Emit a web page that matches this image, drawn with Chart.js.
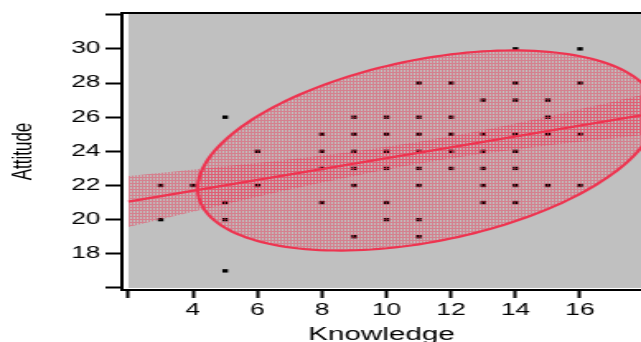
<!DOCTYPE html>
<html>
<head>
<meta charset="utf-8">
<script src="https://cdn.jsdelivr.net/npm/chart.js@4.4.1/dist/chart.umd.min.js"></script>
<style>
  html, body { margin: 0; padding: 0; background: #fff; overflow: hidden; }
  #wrap { width: 389px; height: 342px; transform: scaleX(1.6478); transform-origin: 0 0; }
</style>
</head>
<body>
<div id="wrap"><canvas id="chart" width="389" height="342"></canvas></div>
<script>
// scatter points
const knowledge = [3, 3, 4, 5, 5, 5, 5, 6, 6, 8, 8, 8, 8, 9, 9, 9, 9, 9, 9,
  10, 10, 10, 10, 10, 10, 11, 11, 11, 11, 11, 11, 11, 11, 12, 12, 12, 12, 12,
  13, 13, 13, 13, 13, 13, 14, 14, 14, 14, 14, 14, 14, 14, 15, 15, 15, 15,
  16, 16, 16, 16];
const attitude = [22, 20, 22, 26, 21, 20, 17, 24, 22, 25, 24, 23, 21, 26, 25, 24, 23, 22, 19,
  26, 25, 24, 23, 21, 20, 28, 26, 25, 24, 23, 22, 20, 19, 28, 26, 25, 24, 23,
  27, 25, 24, 23, 22, 21, 30, 28, 27, 25, 24, 23, 22, 21, 27, 26, 25, 22,
  30, 28, 25, 22];

// fitted line and its shaded confidence band
const fitX = [2, 17.89];
const fitY = [21.06, 26.11];
const bandX = [2, 5, 8, 11, 14, 17.89];
const bandUpper = [22.55, 23.12, 23.75, 24.56, 25.63, 27.28];
const bandLower = [19.57, 20.90, 22.17, 23.28, 24.11, 24.94];

// density ellipse: centre, half extents, correlation
const ellipseCenter = [11.25, 24.05];
const ellipseHalf = [7.1, 5.86];
const ellipseCorr = 0.38;

const xTicks = [2, 4, 6, 8, 10, 12, 14, 16];
const yTicks = [16, 18, 20, 22, 24, 26, 28, 30, 32];

const red = 'rgb(238,52,80)';
const font = 'Liberation Sans';

function hatch(ctx) {
  const c = document.createElement('canvas');
  c.width = 2; c.height = 3;
  const g = c.getContext('2d');
  g.fillStyle = 'rgba(238,50,82,0.45)';
  g.fillRect(0, 0, 2, 1);
  g.fillRect(0, 1, 1, 2);
  return ctx.createPattern(c, 'repeat');
}

const ctx = document.getElementById('chart').getContext('2d');
const pattern = hatch(ctx);

const backdrop = {
  id: 'backdrop',
  beforeDraw(chart) {
    const { ctx, chartArea: a, scales: { x, y } } = chart;
    ctx.save();
    ctx.fillStyle = '#fff';
    ctx.fillRect(0, 0, chart.width, chart.height);
    const left = x.getPixelForValue(2);
    const bottom = y.getPixelForValue(16);
    ctx.fillStyle = '#c0c0c0';
    ctx.fillRect(left, a.top, a.right - left, bottom - a.top);
    ctx.strokeStyle = '#000';
    ctx.lineWidth = 2;
    ctx.beginPath();
    ctx.moveTo(a.left - 1, a.top);
    ctx.lineTo(a.right, a.top);
    ctx.stroke();
    ctx.restore();
  }
};

const ellipse = {
  id: 'ellipse',
  afterDatasetDraw(chart, args) {
    if (args.index !== 0) return;
    const { ctx, chartArea: a, scales: { x, y } } = chart;
    const [cx, cy] = ellipseCenter;
    const [sx, sy] = ellipseHalf;
    const k = Math.sqrt(1 - ellipseCorr * ellipseCorr);
    ctx.save();
    ctx.beginPath();
    ctx.rect(x.getPixelForValue(2), a.top, a.right - x.getPixelForValue(2), y.getPixelForValue(16) - a.top);
    ctx.clip();
    ctx.beginPath();
    for (let i = 0; i <= 180; i++) {
      const t = i / 180 * Math.PI * 2;
      const vx = cx + sx * Math.cos(t);
      const vy = cy + sy * (ellipseCorr * Math.cos(t) + k * Math.sin(t));
      const px = x.getPixelForValue(vx), py = y.getPixelForValue(vy);
      if (i === 0) ctx.moveTo(px, py); else ctx.lineTo(px, py);
    }
    ctx.closePath();
    ctx.fillStyle = pattern;
    ctx.fill();
    ctx.strokeStyle = red;
    ctx.lineWidth = 2.2;
    ctx.stroke();
    ctx.restore();
  }
};

new Chart(ctx, {
  data: {
    datasets: [
      {
        type: 'scatter',
        order: 4,
        data: knowledge.map((k, i) => ({ x: k, y: attitude[i] })),
        pointStyle: 'rect',
        pointRadius: 2.4,
        backgroundColor: '#000',
        borderWidth: 0
      },
      {
        type: 'line',
        order: 3,
        data: bandX.map((v, i) => ({ x: v, y: bandUpper[i] })),
        borderWidth: 0,
        pointRadius: 0,
        cubicInterpolationMode: 'monotone',
        fill: false
      },
      {
        type: 'line',
        order: 2,
        data: bandX.map((v, i) => ({ x: v, y: bandLower[i] })),
        borderWidth: 0,
        pointRadius: 0,
        cubicInterpolationMode: 'monotone',
        backgroundColor: pattern,
        fill: '-1'
      },
      {
        type: 'line',
        order: 1,
        data: fitX.map((v, i) => ({ x: v, y: fitY[i] })),
        borderColor: red,
        borderWidth: 2.4,
        pointRadius: 0,
        fill: false
      }
    ]
  },
  options: {
    responsive: false,
    animation: false,
    events: [],
    layout: { autoPadding: false, padding: { top: 13, right: 0, left: 0, bottom: 0 } },
    plugins: { legend: { display: false }, tooltip: { enabled: false } },
    scales: {
      x: {
        type: 'linear',
        min: 1.8,
        max: 17.89,
        afterBuildTicks: s => { s.ticks = xTicks.map(v => ({ value: v })); },
        afterFit: s => { s.height = 52; s.paddingLeft = 0; s.paddingRight = 0; },
        border: { display: true, color: '#000', width: 2 },
        grid: { drawOnChartArea: false, drawTicks: true, tickLength: 8, tickColor: '#000', tickWidth: 2 },
        ticks: {
          autoSkip: false, maxRotation: 0, padding: 3, color: '#000',
          font: { family: font, size: 16 },
          callback: v => (v === 2 ? '' : v)
        },
        title: {
          display: true, text: 'Knowledge', color: '#000',
          font: { family: font, size: 18, lineHeight: 0.8 },
          padding: { top: 0, bottom: 0 }
        }
      },
      y: {
        type: 'linear',
        min: 15.88,
        max: 32.1,
        afterBuildTicks: s => { s.ticks = yTicks.map(v => ({ value: v })); },
        afterFit: s => { s.width = 74; s.paddingTop = 0; s.paddingBottom = 0; },
        border: { display: true, color: '#000', width: 2 },
        grid: { drawOnChartArea: false, drawTicks: true, tickLength: 10, tickColor: '#000', tickWidth: 2 },
        ticks: {
          autoSkip: false, padding: 3, color: '#000',
          font: { family: font, size: 16 },
          callback: v => (v === 16 || v === 32 ? '' : v)
        },
        title: {
          display: true, text: 'Attitude', color: '#000',
          font: { family: font, size: 17, lineHeight: 1.2 },
          padding: { top: 3.7, bottom: 0 }
        }
      }
    }
  },
  plugins: [backdrop, ellipse]
});
</script>
</body>
</html>
